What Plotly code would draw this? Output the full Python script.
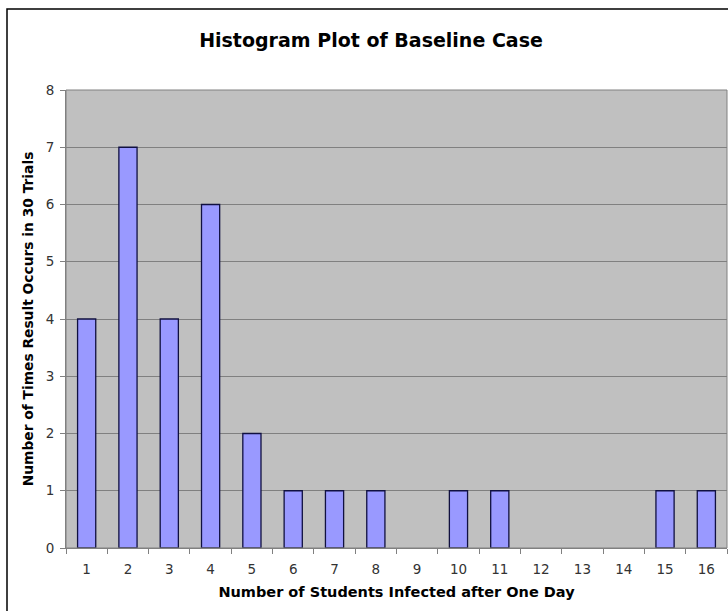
import plotly.graph_objects as go

categories = [str(i) for i in range(1, 17)]
counts = [4, 7, 4, 6, 2, 1, 1, 1, 0, 1, 1, 0, 0, 0, 1, 1]

W, H = 728, 611
L, R, T, B = 66, 1, 90, 63
pw = W - L - R
ph = H - T - B

fig = go.Figure()
fig.add_trace(go.Bar(
    x=categories, y=counts,
    marker=dict(color="#9999FF",
                line=dict(color="#101040",
                          width=[1.3 if c > 0 else 0 for c in counts])),
))

fig.update_layout(
    width=W, height=H,
    margin=dict(l=L, r=R, t=T, b=B),
    paper_bgcolor="white",
    plot_bgcolor="#C0C0C0",
    bargap=0.56,
    showlegend=False,
    font=dict(family="DejaVu Sans", size=13.5, color="#333333"),
    title=dict(text="<b>Histogram Plot of Baseline Case</b>",
               x=371 / W, xref="container", xanchor="center",
               y=1 - 40 / H, yanchor="middle",
               font=dict(family="DejaVu Sans", size=19, color="black")),
    xaxis=dict(type="category", tickson="boundaries", ticks="outside",
               ticklen=5, tickcolor="#808080", showgrid=False,
               showline=True, linecolor="#808080", linewidth=1,
               ticklabelstandoff=9,
               tickfont=dict(size=13.5, color="#333333"),
               title=dict(text="<b>Number of Students Infected after One Day</b>",
                          font=dict(size=14.5, color="black"), standoff=10)),
    yaxis=dict(range=[0, 8], dtick=1, ticks="outside", ticklen=5,
               tickcolor="#808080", showgrid=True, gridcolor="#808080",
               gridwidth=1, showline=True, linecolor="#808080", linewidth=1,
               zeroline=False, mirror=False, ticklabelstandoff=3,
               tickfont=dict(size=13.5, color="#333333"),
               title=dict(text="<b>Number of Times Result Occurs in 30 Trials</b>",
                          font=dict(size=13.8, color="black"), standoff=8)),
    shapes=[
        dict(type="rect", xref="paper", yref="paper",
             x0=0, x1=1, y0=0, y1=1,
             line=dict(color="#808080", width=1), fillcolor="rgba(0,0,0,0)"),
        dict(type="rect", xref="paper", yref="paper",
             x0=(7 - L) / pw, x1=1.2, y0=-0.3, y1=(H - B - 9) / ph,
             line=dict(color="black", width=1.5), fillcolor="rgba(0,0,0,0)"),
    ],
)

fig.write_html(
    "out.html",
    config={"displayModeBar": False},
    post_script="document.body.style.margin='0';document.body.style.overflow='hidden';",
)
